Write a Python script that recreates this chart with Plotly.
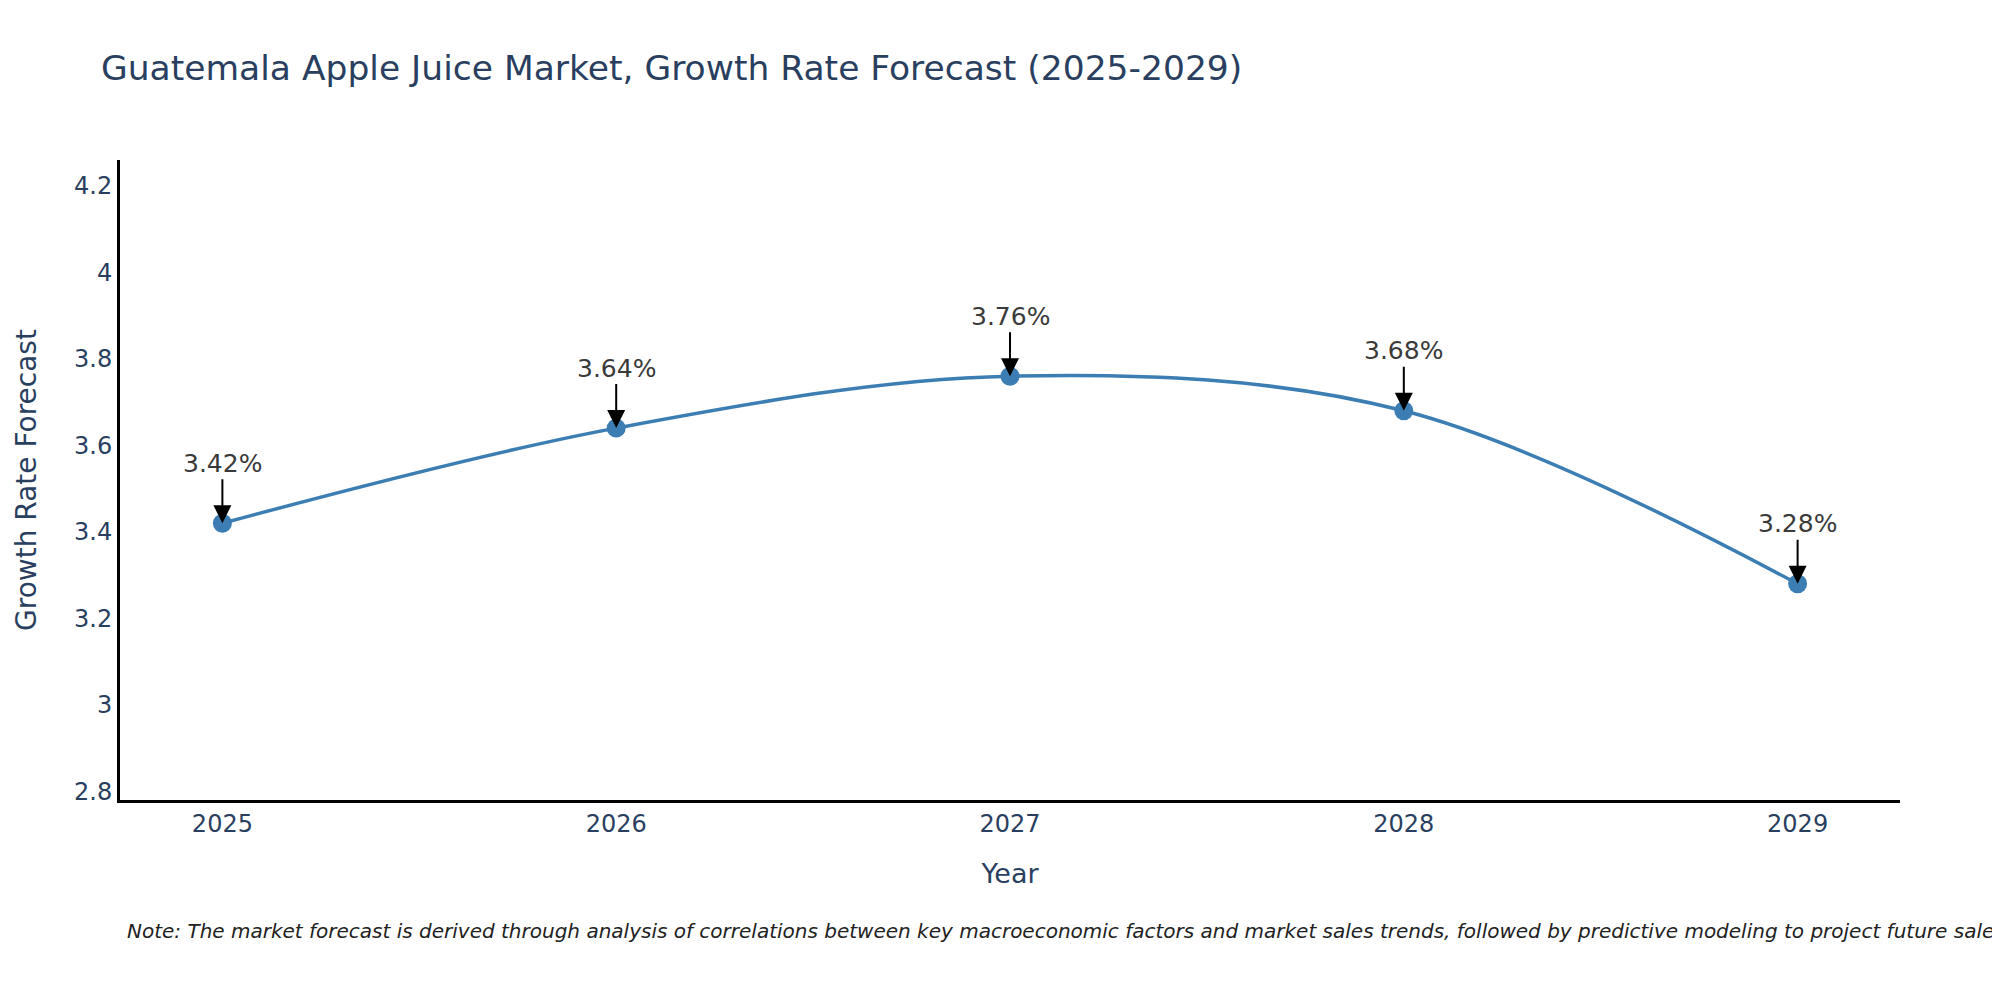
"""Growth rate forecast line chart with labelled points."""

import plotly.graph_objects as go

years = [2025, 2026, 2027, 2028, 2029]
growth_rate = [3.42, 3.64, 3.76, 3.68, 3.28]

title_text = "Guatemala Apple Juice Market, Growth Rate Forecast (2025-2029)"
note_text = (
    "Note: The market forecast is derived through analysis of correlations between key "
    "macroeconomic factors and market sales trends, followed by predictive modeling to "
    "project future sales."
)

LINE_COLOR = "#3c7eb3"
FONT = "DejaVu Sans, Verdana, sans-serif"

fig = go.Figure()
fig.add_trace(
    go.Scatter(
        x=years,
        y=growth_rate,
        mode="lines+markers",
        line={"color": LINE_COLOR, "width": 3.5, "shape": "spline"},
        marker={"color": LINE_COLOR, "size": 19},
        showlegend=False,
    )
)

# value labels with arrows pointing down at each point
for yr, val in zip(years, growth_rate):
    fig.add_annotation(
        x=yr,
        y=val,
        text=f"{val:.2f}%",
        showarrow=True,
        arrowhead=2,
        arrowsize=1.8,
        arrowwidth=2,
        arrowcolor="black",
        ax=0,
        ay=-60,
        font={"size": 25, "color": "#3a3a3a"},
    )

fig.add_annotation(
    text=f"<i>{note_text}</i>",
    xref="paper",
    yref="paper",
    x=0.003,
    y=-0.205,
    xanchor="left",
    yanchor="middle",
    showarrow=False,
    font={"size": 20, "color": "#222222"},
)

# page body adds 8px, margins are trimmed to compensate
fig.update_layout(
    title={"text": title_text, "x": 0.0465, "y": 0.952, "font": {"size": 34.5}},
    template="plotly_white",
    font={"family": FONT, "size": 24, "color": "#2a3f5f"},
    width=2000,
    height=1000,
    margin={"l": 112, "r": 108, "t": 152, "b": 208},
    plot_bgcolor="white",
    paper_bgcolor="white",
)
fig.update_xaxes(
    title={"text": "Year", "font": {"size": 27}, "standoff": 28},
    tickvals=years,
    range=[2024.74, 2029.26],
    showgrid=False,
    zeroline=False,
    showline=True,
    linecolor="black",
    linewidth=3,
)
fig.update_yaxes(
    title={"text": "Growth Rate Forecast", "font": {"size": 28}, "standoff": 30},
    range=[2.78, 4.26],
    dtick=0.2,
    showgrid=False,
    zeroline=False,
    showline=True,
    linecolor="black",
    linewidth=3,
)

fig.write_html("out.html")
